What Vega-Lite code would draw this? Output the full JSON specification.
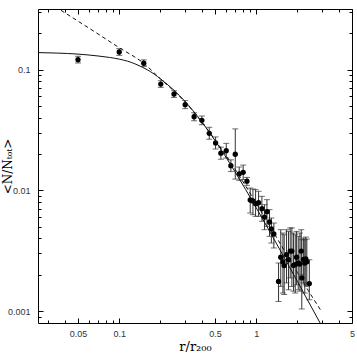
{
  "$schema": "https://vega.github.io/schema/vega-lite/v6.json",
  "width": 314,
  "height": 314,
  "autosize": "none",
  "padding": {"left": 38, "top": 9, "right": 5, "bottom": 34},
  "background": "white",
  "config": {
    "view": {"stroke": "#000", "strokeWidth": 1},
    "axis": {
      "grid": false,
      "domain": false,
      "labelFont": "Liberation Sans",
      "labelFontSize": 9,
      "labelColor": "#333",
      "tickColor": "#000",
      "tickWidth": 1,
      "titleFont": "DejaVu Serif",
      "titleFontWeight": "normal",
      "titleFontSize": 13,
      "titleColor": "#000",
      "labelFlush": false,
      "labelOverlap": false
    }
  },
  "datasets": {
    "pts": [
      {"x": 0.05, "y": 0.121, "lo": 0.1135, "hi": 0.129},
      {"x": 0.1, "y": 0.14, "lo": 0.1313, "hi": 0.1492},
      {"x": 0.151, "y": 0.113, "lo": 0.106, "hi": 0.1205},
      {"x": 0.201, "y": 0.076, "lo": 0.0713, "hi": 0.081},
      {"x": 0.251, "y": 0.0628, "lo": 0.0589, "hi": 0.0669},
      {"x": 0.303, "y": 0.0513, "lo": 0.0475, "hi": 0.0554},
      {"x": 0.352, "y": 0.0407, "lo": 0.0377, "hi": 0.0439},
      {"x": 0.401, "y": 0.038, "lo": 0.035, "hi": 0.0413},
      {"x": 0.454, "y": 0.0297, "lo": 0.0265, "hi": 0.0333},
      {"x": 0.505, "y": 0.0247, "lo": 0.022, "hi": 0.0277},
      {"x": 0.552, "y": 0.0203, "lo": 0.0181, "hi": 0.0228},
      {"x": 0.604, "y": 0.0213, "lo": 0.0185, "hi": 0.0245},
      {"x": 0.653, "y": 0.016, "lo": 0.0143, "hi": 0.0179},
      {"x": 0.703, "y": 0.0199, "lo": 0.0124, "hi": 0.0323},
      {"x": 0.751, "y": 0.0137, "lo": 0.0121, "hi": 0.0156},
      {"x": 0.803, "y": 0.0141, "lo": 0.0123, "hi": 0.0162},
      {"x": 0.855, "y": 0.0119, "lo": 0.011, "hi": 0.0128},
      {"x": 0.904, "y": 0.00832, "lo": 0.00649, "hi": 0.01045},
      {"x": 0.946, "y": 0.00816, "lo": 0.00629, "hi": 0.01026},
      {"x": 0.989, "y": 0.00776, "lo": 0.00609, "hi": 0.01014},
      {"x": 1.04, "y": 0.00791, "lo": 0.00609, "hi": 0.00982},
      {"x": 1.1, "y": 0.00705, "lo": 0.00554, "hi": 0.00892},
      {"x": 1.15, "y": 0.00601, "lo": 0.00472, "hi": 0.00761},
      {"x": 1.197, "y": 0.00665, "lo": 0.00503, "hi": 0.00837},
      {"x": 1.25, "y": 0.00547, "lo": 0.00416, "hi": 0.00692},
      {"x": 1.29, "y": 0.00479, "lo": 0.00366, "hi": 0.0059},
      {"x": 1.345, "y": 0.00435, "lo": 0.00333, "hi": 0.00536},
      {"x": 1.455, "y": 0.00176, "lo": 0.0012, "hi": 0.0025},
      {"x": 1.51, "y": 0.00279, "lo": 0.0016, "hi": 0.00472},
      {"x": 1.566, "y": 0.00255, "lo": 0.00141, "hi": 0.00443},
      {"x": 1.6, "y": 0.00238, "lo": 0.00137, "hi": 0.00429},
      {"x": 1.664, "y": 0.00293, "lo": 0.00171, "hi": 0.00472},
      {"x": 1.72, "y": 0.00266, "lo": 0.0015, "hi": 0.00457},
      {"x": 1.77, "y": 0.00314, "lo": 0.00188, "hi": 0.00488},
      {"x": 1.82, "y": 0.00314, "lo": 0.0016, "hi": 0.00488},
      {"x": 1.87, "y": 0.00239, "lo": 0.00146, "hi": 0.00443},
      {"x": 1.926, "y": 0.00242, "lo": 0.00141, "hi": 0.00429},
      {"x": 1.97, "y": 0.00279, "lo": 0.00165, "hi": 0.00457},
      {"x": 2.026, "y": 0.0025, "lo": 0.0015, "hi": 0.00416},
      {"x": 2.084, "y": 0.00245, "lo": 0.00146, "hi": 0.00443},
      {"x": 2.13, "y": 0.00314, "lo": 0.002, "hi": 0.00472},
      {"x": 2.15, "y": 0.00188, "lo": 0.00104, "hi": 0.0039},
      {"x": 2.21, "y": 0.00268, "lo": 0.00171, "hi": 0.00402},
      {"x": 2.26, "y": 0.0025, "lo": 0.00141, "hi": 0.0039},
      {"x": 2.3, "y": 0.0027, "lo": 0.00165, "hi": 0.0041},
      {"x": 2.34, "y": 0.00256, "lo": 0.0016, "hi": 0.00395},
      {"x": 2.44, "y": 0.00169, "lo": 0.00124, "hi": 0.00266}
    ],
    "solid": [
      {"x": 0.024, "y": 0.1387},
      {"x": 0.035, "y": 0.1372},
      {"x": 0.05, "y": 0.1345},
      {"x": 0.07, "y": 0.1298},
      {"x": 0.085, "y": 0.1262},
      {"x": 0.1, "y": 0.1222},
      {"x": 0.115, "y": 0.1175},
      {"x": 0.13, "y": 0.1118},
      {"x": 0.145, "y": 0.1058},
      {"x": 0.16, "y": 0.0998},
      {"x": 0.18, "y": 0.0918},
      {"x": 0.2, "y": 0.0838},
      {"x": 0.25, "y": 0.0678},
      {"x": 0.3, "y": 0.055},
      {"x": 0.4, "y": 0.037},
      {"x": 0.5, "y": 0.0259},
      {"x": 0.7, "y": 0.01425},
      {"x": 1.0, "y": 0.00717},
      {"x": 1.4, "y": 0.00365},
      {"x": 2.0, "y": 0.001755},
      {"x": 2.9, "y": 0.000811},
      {"x": 3.2, "y": 0.000661}
    ],
    "dashed": [
      {"x": 0.034, "y": 0.333},
      {"x": 0.0369, "y": 0.314},
      {"x": 0.0684, "y": 0.201},
      {"x": 0.1, "y": 0.152},
      {"x": 0.1496, "y": 0.1137},
      {"x": 0.2, "y": 0.0838},
      {"x": 0.3, "y": 0.0545},
      {"x": 0.5, "y": 0.0262},
      {"x": 0.7, "y": 0.015},
      {"x": 1.0, "y": 0.0078},
      {"x": 1.5, "y": 0.0036},
      {"x": 2.0, "y": 0.00208},
      {"x": 2.5, "y": 0.00137},
      {"x": 3.0, "y": 0.00099}
    ]
  },
  "resolve": {"axis": {"x": "independent", "y": "independent"}},
  "layer": [
    {
      "data": {"name": "pts"},
      "mark": {"type": "rule", "color": "#333", "strokeWidth": 1},
      "encoding": {
        "x": {"field": "x", "type": "quantitative",
              "scale": {"type": "log", "domain": [0.02553, 5], "nice": false},
              "axis": {"orient": "bottom", "values": [0.05, 0.1, 0.5, 1, 5], "format": "~g", "ticks": false, "labelPadding": 6, "title": "r/r₂₀₀", "titlePadding": 2}},
        "y": {"field": "lo", "type": "quantitative",
              "scale": {"type": "log", "domain": [0.000796, 0.318], "nice": false},
              "axis": {"orient": "left", "values": [0.001, 0.01, 0.1], "format": "~g", "ticks": false, "labelPadding": 8, "title": "<N/Nₜₒₜ>", "titleFontSize": 12, "titlePadding": -7}},
        "y2": {"field": "hi"}
      }
    },
    {
      "data": {"name": "pts"},
      "mark": {"type": "tick", "orient": "horizontal", "color": "#333", "size": 6, "thickness": 1},
      "encoding": {
        "x": {"field": "x", "type": "quantitative",
              "scale": {"type": "log", "domain": [0.02553, 5], "nice": false},
              "axis": {"orient": "bottom", "values": [0.05, 0.1, 0.5, 1, 5], "labels": false, "tickSize": -5, "title": null}},
        "y": {"field": "lo", "type": "quantitative",
              "scale": {"type": "log", "domain": [0.000796, 0.318], "nice": false},
              "axis": {"orient": "left", "values": [0.001, 0.01, 0.1], "labels": false, "tickSize": -5, "title": null}}
      }
    },
    {
      "data": {"name": "pts"},
      "mark": {"type": "tick", "orient": "horizontal", "color": "#333", "size": 6, "thickness": 1},
      "encoding": {
        "x": {"field": "x", "type": "quantitative",
              "scale": {"type": "log", "domain": [0.02553, 5], "nice": false},
              "axis": {"orient": "bottom", "values": [0.03, 0.04, 0.06, 0.07, 0.08, 0.09, 0.2, 0.3, 0.4, 0.6, 0.7, 0.8, 0.9, 2, 3, 4], "labels": false, "tickSize": -3, "title": null}},
        "y": {"field": "hi", "type": "quantitative",
              "scale": {"type": "log", "domain": [0.000796, 0.318], "nice": false},
              "axis": {"orient": "left", "values": [0.0009, 0.002, 0.003, 0.004, 0.005, 0.006, 0.007, 0.008, 0.009, 0.02, 0.03, 0.04, 0.05, 0.06, 0.07, 0.08, 0.09, 0.2, 0.3], "labels": false, "tickSize": -3, "title": null}}
      }
    },
    {
      "data": {"name": "pts"},
      "mark": {"type": "point", "filled": true, "color": "#000", "opacity": 1, "size": 28},
      "encoding": {
        "x": {"field": "x", "type": "quantitative",
              "scale": {"type": "log", "domain": [0.02553, 5], "nice": false},
              "axis": {"orient": "top", "values": [0.05, 0.1, 0.5, 1, 5], "labels": false, "tickSize": -5, "title": null}},
        "y": {"field": "y", "type": "quantitative",
              "scale": {"type": "log", "domain": [0.000796, 0.318], "nice": false},
              "axis": {"orient": "right", "values": [0.001, 0.01, 0.1], "labels": false, "tickSize": -5, "title": null}}
      }
    },
    {
      "data": {"name": "solid"},
      "mark": {"type": "line", "color": "#111", "strokeWidth": 1, "clip": true, "interpolate": "monotone"},
      "encoding": {
        "x": {"field": "x", "type": "quantitative",
              "scale": {"type": "log", "domain": [0.02553, 5], "nice": false},
              "axis": {"orient": "top", "values": [0.03, 0.04, 0.06, 0.07, 0.08, 0.09, 0.2, 0.3, 0.4, 0.6, 0.7, 0.8, 0.9, 2, 3, 4], "labels": false, "tickSize": -3, "title": null}},
        "y": {"field": "y", "type": "quantitative",
              "scale": {"type": "log", "domain": [0.000796, 0.318], "nice": false},
              "axis": {"orient": "right", "values": [0.0009, 0.002, 0.003, 0.004, 0.005, 0.006, 0.007, 0.008, 0.009, 0.02, 0.03, 0.04, 0.05, 0.06, 0.07, 0.08, 0.09, 0.2, 0.3], "labels": false, "tickSize": -3, "title": null}}
      }
    },
    {
      "data": {"name": "dashed"},
      "mark": {"type": "line", "color": "#111", "strokeWidth": 1, "strokeDash": [4, 3], "clip": true, "interpolate": "monotone"},
      "encoding": {
        "x": {"field": "x", "type": "quantitative",
              "scale": {"type": "log", "domain": [0.02553, 5], "nice": false},
              "axis": null},
        "y": {"field": "y", "type": "quantitative",
              "scale": {"type": "log", "domain": [0.000796, 0.318], "nice": false},
              "axis": null}
      }
    }
  ]
}
